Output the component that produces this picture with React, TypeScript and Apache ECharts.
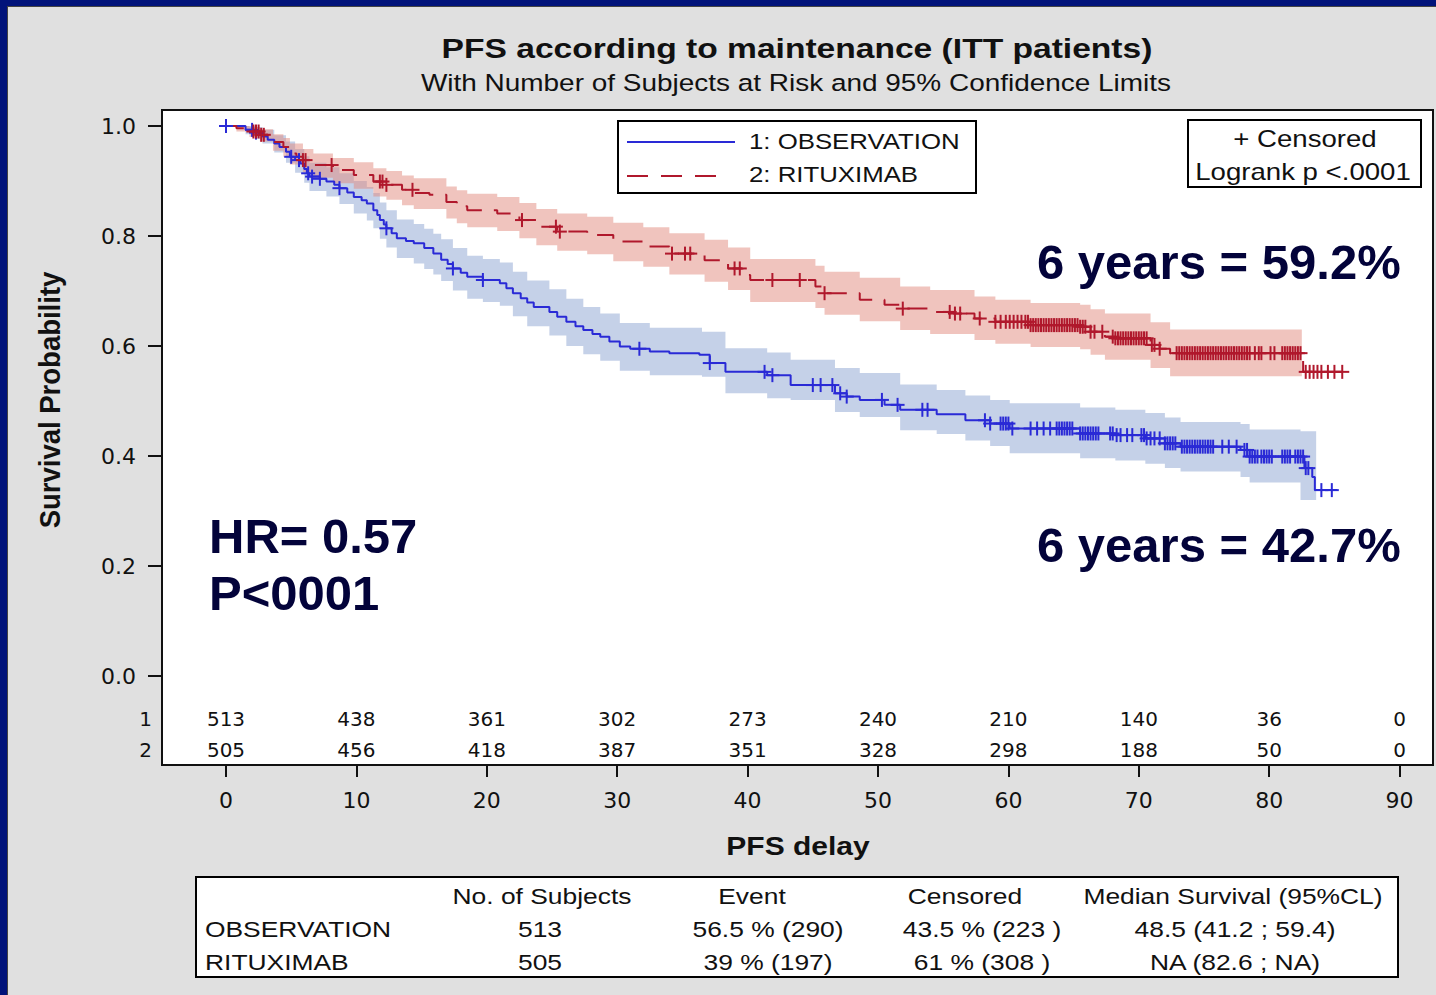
import React, { useEffect, useRef } from "react";
import * as echarts from "echarts";

// ---------- data ----------
const xTicks = [0, 10, 20, 30, 40, 50, 60, 70, 80, 90];
const yTicks = [0, 0.2, 0.4, 0.6, 0.8, 1.0];
const atRiskObs = [513, 438, 361, 302, 273, 240, 210, 140, 36, 0];
const atRiskRit = [505, 456, 418, 387, 351, 328, 298, 188, 50, 0];

// Kaplan-Meier step points [month, survival]
const obsCurve = [
  [0, 1.0], [1.5, 0.993], [2.2, 0.988], [2.8, 0.981], [3.2, 0.975], [3.7, 0.968], [4.1, 0.962], [4.6, 0.953],
  [4.9, 0.944], [5.3, 0.938], [5.7, 0.932], [6.0, 0.922], [6.2, 0.914], [6.4, 0.908], [7.2, 0.904], [7.7, 0.899],
  [8.3, 0.893], [8.7, 0.887], [9.3, 0.879], [9.8, 0.871], [10.4, 0.865], [10.8, 0.859], [11.3, 0.847], [11.6, 0.838],
  [11.8, 0.829], [12.1, 0.821], [12.3, 0.814], [12.7, 0.805], [13.1, 0.796], [13.8, 0.791], [14.4, 0.787], [15.2, 0.778],
  [15.9, 0.768], [16.5, 0.757], [17.0, 0.749], [17.4, 0.741], [18.0, 0.733], [18.5, 0.726], [19.7, 0.720], [21.0, 0.714],
  [21.5, 0.705], [22.0, 0.696], [22.6, 0.687], [23.1, 0.679], [23.6, 0.671], [24.8, 0.662], [25.4, 0.653], [26.1, 0.644],
  [26.8, 0.636], [27.4, 0.629], [28.1, 0.622], [28.7, 0.617], [29.4, 0.608], [30.2, 0.599], [31.0, 0.595], [32.5, 0.590],
  [34.0, 0.587], [36.3, 0.584], [37.1, 0.569], [38.3, 0.553], [41.5, 0.547], [43.3, 0.529], [46.7, 0.514], [47.6, 0.508],
  [48.6, 0.502], [50.5, 0.493], [51.7, 0.484], [54.5, 0.476], [56.7, 0.465], [58.6, 0.459], [60.1, 0.450], [65.5, 0.441],
  [68.2, 0.438], [70.5, 0.432], [72.0, 0.423], [73.2, 0.417], [77.8, 0.411], [78.5, 0.399], [82.7, 0.378], [83.3, 0.362],
  [83.5, 0.338], [85.2, 0.338],
];
const ritCurve = [
  [0, 1.0], [0.8, 0.996], [1.8, 0.99], [2.6, 0.984], [3.2, 0.978], [3.6, 0.971], [4.4, 0.962], [4.9, 0.95],
  [5.4, 0.944], [5.9, 0.938], [6.7, 0.929], [8.2, 0.92], [9.8, 0.911], [11.3, 0.899], [12.3, 0.893], [13.5, 0.884],
  [14.4, 0.878], [15.6, 0.875], [16.9, 0.862], [17.7, 0.854], [18.5, 0.847], [20.8, 0.841], [22.5, 0.829], [23.8, 0.817],
  [25.4, 0.808], [27.7, 0.802], [29.7, 0.79], [32.0, 0.781], [34.0, 0.768], [36.7, 0.756], [37.9, 0.75], [38.5, 0.741],
  [39.6, 0.729], [40.2, 0.72], [45.2, 0.708], [45.9, 0.696], [48.6, 0.684], [50.5, 0.675], [51.7, 0.668], [54.0, 0.662],
  [55.9, 0.659], [57.4, 0.65], [59.0, 0.644], [61.7, 0.638], [65.5, 0.635], [66.3, 0.626], [67.4, 0.617], [68.2, 0.614],
  [70.9, 0.602], [71.6, 0.595], [72.4, 0.587], [82.6, 0.553], [85.6, 0.553],
];

// 95% confidence limits [month, lower, upper]
const obsBand = [
  [0, 1.0, 1.0], [1.5, 0.985, 1.0], [2.2, 0.977, 0.998], [2.8, 0.968, 0.993], [3.7, 0.952, 0.983], [4.6, 0.933, 0.972],
  [5.3, 0.915, 0.958], [6.0, 0.897, 0.945], [6.4, 0.882, 0.933], [7.7, 0.872, 0.925], [8.7, 0.858, 0.914],
  [9.8, 0.841, 0.9], [10.8, 0.828, 0.889], [11.3, 0.814, 0.878], [11.8, 0.795, 0.861], [12.3, 0.779, 0.847],
  [13.1, 0.76, 0.83], [14.4, 0.75, 0.822], [15.2, 0.74, 0.813], [15.9, 0.73, 0.804], [16.5, 0.718, 0.794],
  [17.4, 0.701, 0.778], [18.5, 0.686, 0.764], [19.7, 0.68, 0.758], [21.0, 0.673, 0.752], [22.0, 0.654, 0.735],
  [23.1, 0.636, 0.719], [24.8, 0.619, 0.703], [26.1, 0.6, 0.686], [27.4, 0.585, 0.671], [28.7, 0.573, 0.659],
  [30.2, 0.555, 0.642], [32.5, 0.547, 0.633], [36.5, 0.544, 0.626], [38.3, 0.514, 0.596], [41.5, 0.505, 0.588],
  [43.3, 0.502, 0.575], [46.7, 0.48, 0.56], [48.6, 0.471, 0.551], [51.7, 0.447, 0.53], [54.5, 0.44, 0.52],
  [56.7, 0.428, 0.51], [58.6, 0.418, 0.502], [60.1, 0.405, 0.496], [65.5, 0.396, 0.488], [68.2, 0.392, 0.484],
  [70.5, 0.386, 0.478], [72.0, 0.378, 0.47], [73.2, 0.372, 0.462], [77.8, 0.362, 0.458], [78.5, 0.352, 0.448],
  [82.4, 0.32, 0.445], [83.6, 0.32, 0.445],
];
const ritBand = [
  [0, 1.0, 1.0], [0.8, 0.99, 1.0], [1.8, 0.98, 0.998], [2.6, 0.972, 0.994], [3.6, 0.955, 0.985], [4.4, 0.944, 0.978],
  [4.9, 0.93, 0.968], [5.9, 0.916, 0.958], [6.7, 0.906, 0.95], [8.2, 0.896, 0.942], [9.8, 0.886, 0.934],
  [11.3, 0.872, 0.923], [12.3, 0.866, 0.918], [13.5, 0.856, 0.91], [14.4, 0.849, 0.905], [16.9, 0.832, 0.89],
  [17.7, 0.823, 0.883], [18.5, 0.816, 0.877], [20.8, 0.809, 0.871], [22.5, 0.796, 0.86], [23.8, 0.783, 0.849],
  [25.4, 0.773, 0.841], [27.7, 0.767, 0.835], [29.7, 0.754, 0.824], [32.0, 0.744, 0.816], [34.0, 0.73, 0.805],
  [36.7, 0.717, 0.793], [38.5, 0.702, 0.779], [40.2, 0.68, 0.758], [45.2, 0.669, 0.746], [45.9, 0.657, 0.735],
  [48.6, 0.645, 0.724], [51.7, 0.629, 0.708], [54.0, 0.622, 0.702], [57.4, 0.611, 0.69], [59.0, 0.604, 0.684],
  [61.7, 0.598, 0.678], [65.5, 0.594, 0.675], [66.3, 0.584, 0.667], [67.4, 0.575, 0.659], [70.9, 0.56, 0.643],
  [72.4, 0.545, 0.63], [82.5, 0.545, 0.63],
];

// censoring times (months)
const obsCensor = [
  0.0, 2.0, 2.3, 5.0, 5.6, 6.3, 6.6, 7.2, 8.7, 12.3, 17.4, 19.7, 31.7, 37.1, 41.3, 41.9, 45.0, 45.6, 46.5, 47.1,
  47.6, 50.3, 51.5, 53.4, 53.8, 58.2, 58.6, 59.4, 59.6, 59.8, 60.0, 60.3, 61.7, 62.2, 62.7, 63.2, 63.7, 63.9, 64.1,
  64.3, 64.5, 64.7, 64.9, 65.5, 65.7, 65.9, 66.1, 66.3, 66.5, 66.7, 66.9, 67.8, 68.0, 68.3, 68.6, 69.1, 69.5, 70.2,
  70.4, 70.6, 70.9, 71.2, 71.6, 72.0, 72.2, 72.4, 72.6, 72.8, 73.3, 73.5, 73.7, 73.9, 74.1, 74.3, 74.5, 74.7, 74.9,
  75.1, 75.3, 75.5, 75.7, 76.4, 76.9, 77.5, 78.1, 78.3, 78.5, 78.7, 78.9, 79.1, 79.4, 79.6, 79.8, 80.0, 80.2, 81.0,
  81.2, 81.4, 81.6, 82.0, 82.2, 82.4, 82.6, 82.8, 83.0, 84.0, 84.8,
];
const ritCensor = [
  2.1, 2.3, 2.5, 2.7, 2.9, 5.9, 6.1, 8.1, 11.8, 12.0, 12.3, 14.3, 22.7, 25.3, 25.6, 34.2, 35.2, 35.6, 39.0, 39.4,
  41.9, 44.0, 45.9, 51.9, 55.5, 55.9, 56.3, 57.8, 59.0, 59.4, 59.8, 60.1, 60.4, 60.7, 61.0, 61.3, 61.5, 61.7, 61.9,
  62.1, 62.3, 62.5, 62.7, 62.9, 63.1, 63.3, 63.5, 63.7, 63.9, 64.1, 64.3, 64.5, 64.7, 64.9, 65.1, 65.3, 65.5, 65.7,
  65.9, 66.3, 66.6, 67.2, 68.0, 68.2, 68.4, 68.6, 68.8, 69.0, 69.2, 69.4, 69.6, 69.8, 70.0, 70.2, 70.4, 70.6, 71.0,
  71.2, 71.6, 72.9, 73.1, 73.3, 73.5, 73.7, 73.9, 74.1, 74.3, 74.5, 74.7, 74.9, 75.1, 75.3, 75.5, 75.7, 75.9, 76.1,
  76.3, 76.5, 76.7, 76.9, 77.1, 77.3, 77.5, 77.7, 77.9, 78.1, 78.3, 78.5, 78.9, 79.2, 79.4, 80.1, 80.4, 81.0, 81.2,
  81.4, 81.6, 81.8, 82.0, 82.2, 82.4, 82.8, 83.1, 83.4, 83.7, 84.0, 84.5, 85.0, 85.6,
];

const tableHeader = ["No. of Subjects", "Event", "Censored", "Median Survival (95%CL)"];
const tableRows = [
  ["OBSERVATION", "513", "56.5 % (290)", "43.5 % (223 )", "48.5 (41.2 ; 59.4)"],
  ["RITUXIMAB", "505", "39 % (197)", "61 % (308 )", "NA (82.6 ; NA)"],
];

// ---------- styling ----------
const BLUE = "#2a2ad6";
const RED = "#b0182c";
const BLUE_BAND = "rgba(139,163,209,0.5)";
const RED_BAND = "rgba(225,137,125,0.5)";
const NAVY = "#03033a";
const FRAME = "#01137a";
const DJ = '"DejaVu Sans", sans-serif';
const LIB = '"Liberation Sans", Arial, sans-serif';

const X_MIN = -4.908;
const X_MAX = 92.56;
const Y_MIN = -0.1618;
const Y_MAX = 1.0291;

function survAt(curve: number[][], t: number) {
  let s = curve[0][1];
  for (const p of curve) {
    if (p[0] <= t) s = p[1];
    else break;
  }
  return s;
}

function txt(text: string, x: number, y: number, size: number, o: any = {}) {
  const align = o.align || "left";
  return {
    type: "text",
    x,
    y,
    scaleX: o.sx ?? 1.2,
    scaleY: o.sy ?? 1,
    rotation: o.rotation || 0,
    z: 20,
    silent: true,
    style: {
      text,
      x: 0,
      y: 0,
      font: `${o.bold ? "bold " : ""}${size}px ${o.family || LIB}`,
      fill: o.color || "#111",
      align,
      textAlign: align,
      verticalAlign: "middle",
      textVerticalAlign: "middle",
    },
  };
}

function bandSeries(band: number[][], color: string, z: number) {
  return {
    type: "custom",
    silent: true,
    z,
    data: [[0, 0]],
    renderItem: (_p: any, api: any) => {
      const pts: number[][] = [];
      for (let i = 0; i < band.length - 1; i++) {
        pts.push(api.coord([band[i][0], band[i][2]]));
        pts.push(api.coord([band[i + 1][0], band[i][2]]));
      }
      for (let i = band.length - 2; i >= 0; i--) {
        pts.push(api.coord([band[i + 1][0], band[i][1]]));
        pts.push(api.coord([band[i][0], band[i][1]]));
      }
      return { type: "polygon", shape: { points: pts }, style: { fill: color } };
    },
  };
}

function censorSeries(curve: number[][], times: number[], color: string, z: number) {
  return {
    type: "custom",
    silent: true,
    z,
    data: times.map((t) => [t, survAt(curve, t)]),
    renderItem: (_p: any, api: any) => {
      const c = api.coord([api.value(0), api.value(1)]);
      return {
        type: "group",
        children: [
          { type: "line", shape: { x1: c[0] - 7, y1: c[1], x2: c[0] + 7, y2: c[1] }, style: { stroke: color, lineWidth: 2 } },
          { type: "line", shape: { x1: c[0], y1: c[1] - 7, x2: c[0], y2: c[1] + 7 }, style: { stroke: color, lineWidth: 2 } },
        ],
      };
    },
  };
}

function atRiskSeries(values: number[], rowY: number) {
  return {
    type: "custom",
    silent: true,
    z: 10,
    data: values.map((n, i) => [xTicks[i], n]),
    renderItem: (_p: any, api: any) => {
      const c = api.coord([api.value(0), 0]);
      return {
        type: "text",
        x: c[0],
        y: rowY,
        style: {
          text: String(api.value(1)),
          font: `20px ${DJ}`,
          fill: "#111",
          align: "center",
          textAlign: "center",
          verticalAlign: "middle",
          textVerticalAlign: "middle",
        },
      };
    },
  };
}

export default function App() {
  const ref = useRef<HTMLDivElement>(null);
  useEffect(() => {
    if (!ref.current) return;
    const chart = echarts.init(ref.current, null, { renderer: "svg" });

    const headX = [542, 752, 965, 1233];
    const colX = [540, 768, 982, 1235];
    const graphic: any[] = [
      { type: "rect", z: 1, shape: { x: 0, y: 0, width: 1436, height: 6 }, style: { fill: FRAME } },
      { type: "rect", z: 1, shape: { x: 0, y: 0, width: 7, height: 995 }, style: { fill: FRAME } },
      { type: "line", z: 1, shape: { x1: 7, y1: 6.5, x2: 1436, y2: 6.5 }, style: { stroke: "#444", lineWidth: 1 } },
      { type: "line", z: 1, shape: { x1: 7.5, y1: 6, x2: 7.5, y2: 995 }, style: { stroke: "#444", lineWidth: 1 } },
      txt("PFS according to maintenance (ITT patients)", 797, 48, 28, { bold: true, align: "center" }),
      txt("With Number of Subjects at Risk and 95% Confidence Limits", 796, 83, 23.3, { align: "center" }),
      txt("Survival Probability", 50, 400, 25, { bold: true, align: "center", rotation: Math.PI / 2, sx: 1.1, sy: 1.15 }),
      txt("PFS delay", 798, 846, 25, { bold: true, align: "center" }),
      // legend
      { type: "rect", z: 15, shape: { x: 618, y: 121, width: 358, height: 72 }, style: { fill: "#fff", stroke: "#000", lineWidth: 2 } },
      { type: "line", z: 16, shape: { x1: 627, y1: 142, x2: 735, y2: 142 }, style: { stroke: BLUE, lineWidth: 2 } },
      { type: "line", z: 16, shape: { x1: 627, y1: 176, x2: 727, y2: 176 }, style: { stroke: RED, lineWidth: 2, lineDash: [21, 13] } },
      txt("1: OBSERVATION", 749, 142, 21.5),
      txt("2: RITUXIMAB", 749, 175, 21.5),
      // censored box
      { type: "rect", z: 15, shape: { x: 1188, y: 120, width: 233, height: 67 }, style: { fill: "#fff", stroke: "#000", lineWidth: 2 } },
      txt("+ Censored", 1305, 139, 23, { align: "center" }),
      txt("Logrank p <.0001", 1303, 172, 23, { align: "center" }),
      // annotations
      txt("6 years = 59.2%", 1037, 262, 49, { bold: true, sx: 1, color: NAVY }),
      txt("6 years = 42.7%", 1037, 545, 49, { bold: true, sx: 1, color: NAVY }),
      txt("HR= 0.57", 209, 536, 49, { bold: true, sx: 1, color: NAVY }),
      txt("P<0001", 209, 593, 49, { bold: true, sx: 1, color: NAVY }),
      // at-risk row labels
      txt("1", 152, 719, 20, { align: "right", sx: 1, family: DJ }),
      txt("2", 152, 750, 20, { align: "right", sx: 1, family: DJ }),
      // summary table
      { type: "rect", z: 15, shape: { x: 196, y: 877, width: 1202, height: 100 }, style: { fill: "#fff", stroke: "#000", lineWidth: 2 } },
    ];
    tableHeader.forEach((h, i) => graphic.push(txt(h, headX[i], 896, 22, { align: "center" })));
    tableRows.forEach((row, r) => {
      const y = 929 + r * 33;
      graphic.push(txt(row[0], 205, y, 22));
      for (let i = 1; i < row.length; i++) graphic.push(txt(row[i], colX[i - 1], y, 22, { align: "center" }));
    });

    const axisFont = { fontSize: 22, fontFamily: DJ, color: "#111" };
    chart.setOption({
      animation: false,
      backgroundColor: "#e0e0e0",
      grid: {
        left: 162,
        top: 110,
        width: 1271,
        height: 655,
        show: true,
        backgroundColor: "#fff",
        borderColor: "#111",
        borderWidth: 2,
      },
      xAxis: {
        type: "value",
        min: X_MIN,
        max: X_MAX,
        axisLine: { show: true, onZero: false, lineStyle: { color: "#111", width: 2 } },
        axisTick: { show: true, customValues: xTicks, length: 12, lineStyle: { color: "#111", width: 2 } },
        axisLabel: { customValues: xTicks, margin: 24, ...axisFont },
        splitLine: { show: false },
      },
      yAxis: {
        type: "value",
        min: Y_MIN,
        max: Y_MAX,
        axisLine: { show: true, onZero: false, lineStyle: { color: "#111", width: 2 } },
        axisTick: { show: true, customValues: yTicks, length: 14, lineStyle: { color: "#111", width: 2 } },
        axisLabel: { customValues: yTicks, margin: 26, formatter: (v: number) => v.toFixed(1), ...axisFont },
        splitLine: { show: false },
      },
      graphic,
      series: [
        bandSeries(obsBand, BLUE_BAND, 2),
        bandSeries(ritBand, RED_BAND, 3),
        {
          type: "line",
          name: "1: OBSERVATION",
          step: "end",
          data: obsCurve,
          symbol: "none",
          z: 4,
          lineStyle: { color: BLUE, width: 2 },
          silent: true,
        },
        {
          type: "line",
          name: "2: RITUXIMAB",
          step: "end",
          data: ritCurve,
          symbol: "none",
          z: 5,
          lineStyle: { color: RED, width: 2, type: [20, 12] },
          silent: true,
        },
        censorSeries(obsCurve, obsCensor, BLUE, 6),
        censorSeries(ritCurve, ritCensor, RED, 7),
        atRiskSeries(atRiskObs, 719),
        atRiskSeries(atRiskRit, 750),
      ],
    });
    return () => chart.dispose();
  }, []);
  return <div ref={ref} style={{ position: "absolute", left: 0, top: 0, width: 1436, height: 995 }} />;
}
